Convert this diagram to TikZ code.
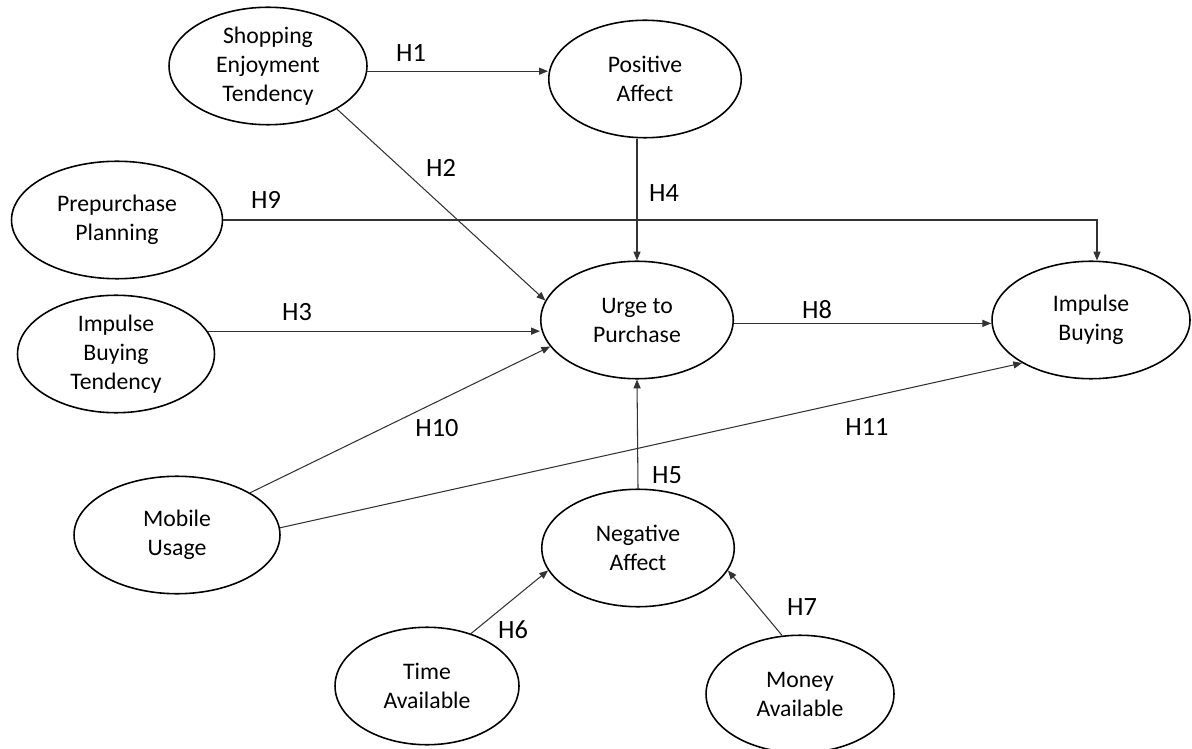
\documentclass[tikz,border=0pt]{standalone}
\usepackage{fontspec}
\setmainfont{Carlito}
\usepackage{tikz}
\usetikzlibrary{arrows.meta,shapes.geometric}

\begin{document}
\begin{tikzpicture}[x=0.02cm, y=-0.02cm,
  construct/.style={ellipse, draw=black, line width=0.9pt, inner sep=0pt,
    minimum width=3.85cm, minimum height=2.35cm, align=center,
    font=\fontsize{13.5}{16.5}\selectfont},
  hyp/.style={font=\fontsize{15}{18}\selectfont, inner sep=0pt},
  arr/.style={draw=black!80, line width=0.6pt, -{Triangle[length=5pt,width=4pt]}}]
  \useasboundingbox (0,0) rectangle (1192,749);
  % Constructs
  \node[construct, minimum width=3.96cm] (set) at (268,66) {Shopping\\Enjoyment\\Tendency};
  \node[construct] (pa) at (645,79) {Positive\\Affect};
  \node[construct, minimum width=4.22cm] (ppp) at (117,220) {Prepurchase\\Planning};
  \node[construct, minimum width=3.94cm] (ibt) at (116,354) {Impulse\\Buying\\Tendency};
  \node[construct] (utp) at (637,320) {Urge to\\Purchase};
  \node[construct, minimum width=3.96cm] (ib) at (1091,320) {Impulse\\Buying};
  \node[construct, minimum width=4.12cm] (mu) at (177,535) {Mobile\\Usage};
  \node[construct] (na) at (638,548) {Negative\\Affect};
  \node[construct, minimum width=3.68cm] (ta) at (427,686) {Time\\Available};
  \node[construct, minimum width=3.76cm] (ma) at (800,694) {Money\\Available};
  % Paths
  \draw[arr] (set.-3.5) -- (set.-3.5 -| pa.west);
  \draw[arr] (set.-32) -- (utp.168);
  \draw[arr] (ppp.east) -| ([xshift=3.4pt]ib.north);
  \draw[arr] (pa.south -| utp.north) -- (utp.north);
  \draw[arr] (ibt.14) -- (ibt.14 -| utp.west);
  \draw[arr] (utp.-2) -- (utp.-2 -| ib.west);
  \draw[arr] (mu.30) -- (utp.197);
  \draw[arr] (mu.4) -- (ib.212);
  \draw[arr] (na.north) -- (utp.south);
  \draw[arr] (ta.50) -- (na.194);
  \draw[arr] (ma.107) -- (na.-14);
  % Labels
  \node[hyp] (h1) at (411,53) {H1};
  \node[hyp] (h2) at (441,168) {H2};
  \node[hyp] (h9) at (266,200) {H9};
  \node[hyp] (h4) at (664,193) {H4};
  \node[hyp] (h3) at (297,312) {H3};
  \node[hyp] (h8) at (817,310) {H8};
  \node[hyp] (h10) at (437,428) {H10};
  \node[hyp] (h11) at (867,427) {H11};
  \node[hyp] (h5) at (667,475) {H5};
  \node[hyp] (h6) at (513,630) {H6};
  \node[hyp] (h7) at (802,607) {H7};
\end{tikzpicture}
\end{document}
